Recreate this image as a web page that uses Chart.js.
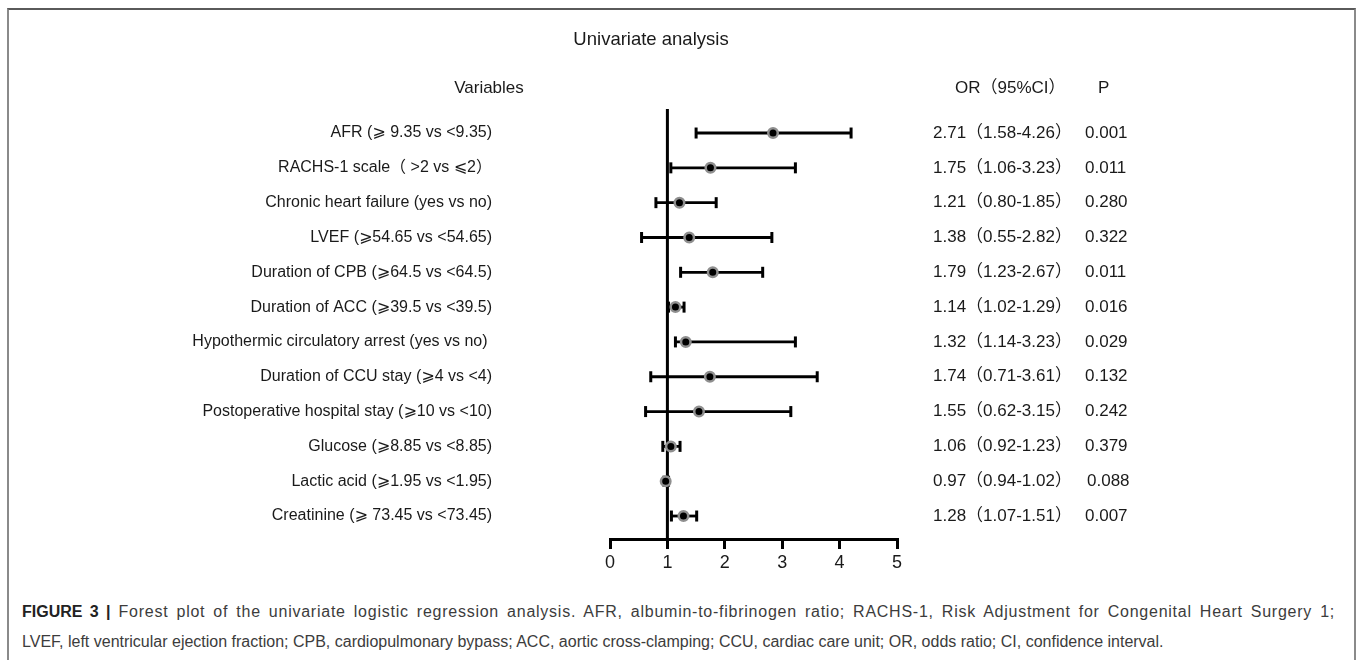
<!DOCTYPE html>
<html>
<head>
<meta charset="utf-8">
<script src="https://cdn.jsdelivr.net/npm/chart.js@4.4.0/dist/chart.umd.min.js"></script>
<style>
  body { margin: 0; background: #fff; width: 1357px; height: 660px; overflow: hidden; position: relative; }
  #frame { position: absolute; left: 7px; top: 8px; width: 1349px; height: 720px; box-sizing: border-box;
    border: 2px solid #8a8a8a; border-top-color: #5a5a5a; }
  #plot { position: absolute; left: 0; top: 0; width: 1357px; height: 590px; }
  .cap { position: absolute; left: 22px; font-family: "Liberation Sans", Arial, sans-serif;
    font-size: 16px; line-height: 30px; color: #3c3c3c; white-space: nowrap; }
  #cap1 { top: 597px; width: 1313px; text-align: justify; text-align-last: justify; white-space: normal; letter-spacing: 0.75px; }
  #cap2 { top: 627px; }
  .cap b { color: #222; letter-spacing: 0; }
</style>
</head>
<body>
<div id="frame"></div>
<div id="plot"><canvas id="forestChart"></canvas></div>
<div class="cap" id="cap1"><b>FIGURE 3 |</b> Forest plot of the univariate logistic regression analysis. AFR, albumin-to-fibrinogen ratio; RACHS-1, Risk Adjustment for Congenital Heart Surgery 1;</div>
<div class="cap" id="cap2">LVEF, left ventricular ejection fraction; CPB, cardiopulmonary bypass; ACC, aortic cross-clamping; CCU, cardiac care unit; OR, odds ratio; CI, confidence interval.</div>
<script>
const variables = [
  "AFR (\u2A7E 9.35 vs <9.35)",
  "RACHS-1 scale\uFF08 >2 vs \u2A7D2\uFF09",
  "Chronic heart failure (yes vs no)",
  "LVEF (\u2A7E54.65 vs <54.65)",
  "Duration of CPB (\u2A7E64.5 vs <64.5)",
  "Duration of ACC (\u2A7E39.5 vs <39.5)",
  "Hypothermic circulatory arrest (yes vs no) ",
  "Duration of CCU stay (\u2A7E4 vs <4)",
  "Postoperative hospital stay (\u2A7E10 vs <10)",
  "Glucose (\u2A7E8.85 vs <8.85)",
  "Lactic acid (\u2A7E1.95 vs <1.95)",
  "Creatinine (\u2A7E 73.45 vs <73.45)"
];
// plotted positions (AFR marker sits a bit off its printed value in the figure)
const oddsRatios = [2.84, 1.75, 1.21, 1.38, 1.79, 1.14, 1.32, 1.74, 1.55, 1.06, 0.97, 1.28];
const ciLower = [1.50, 1.06, 0.80, 0.55, 1.23, 1.02, 1.14, 0.71, 0.62, 0.92, 0.94, 1.07];
const ciUpper = [4.20, 3.23, 1.85, 2.82, 2.66, 1.29, 3.23, 3.61, 3.15, 1.22, 1.02, 1.51];
const orLabels = [
  "2.71\uFF081.58-4.26\uFF09", "1.75\uFF081.06-3.23\uFF09", "1.21\uFF080.80-1.85\uFF09",
  "1.38\uFF080.55-2.82\uFF09", "1.79\uFF081.23-2.67\uFF09", "1.14\uFF081.02-1.29\uFF09",
  "1.32\uFF081.14-3.23\uFF09", "1.74\uFF080.71-3.61\uFF09", "1.55\uFF080.62-3.15\uFF09",
  "1.06\uFF080.92-1.23\uFF09", "0.97\uFF080.94-1.02\uFF09", "1.28\uFF081.07-1.51\uFF09"
];
const pValues = ["0.001", "0.011", "0.280", "0.322", "0.011", "0.016", "0.029", "0.132", "0.242", "0.379", "0.088", "0.007"];
const refValue = 1;

const FONT = '"Liberation Sans", Arial, "DejaVu Sans", "Noto Sans CJK SC", sans-serif';
const TEXT = "#1a1a1a";
const Y_MIN = 0.31;
const Y_MAX = 12.66;

const tablePlugin = {
  id: "tableText",
  afterDraw(chart) {
    const ctx = chart.ctx;
    const y = chart.scales.y;
    const right = chart.chartArea.right;
    ctx.save();
    ctx.fillStyle = TEXT;
    ctx.textBaseline = "middle";
    ctx.font = "18.5px " + FONT;
    ctx.textAlign = "center";
    ctx.fillText("Univariate analysis", 651, 40);
    ctx.font = "17px " + FONT;
    ctx.fillText("Variables", 489, 88);
    ctx.textAlign = "left";
    ctx.fillText("OR\uFF0895%CI\uFF09", right + 58, 88);
    ctx.fillText("P", right + 201, 88);
    orLabels.forEach((t, i) => {
      const py = y.getPixelForValue(i + 1);
      ctx.fillText(t, right + 36, py);
      ctx.fillText(pValues[i], right + 188 + (i === 10 ? 2 : 0), py);
    });
    ctx.restore();
  }
};

const ciSets = variables.map((v, i) => ({
  label: v,
  data: [{ x: ciLower[i], y: i + 1 }, { x: ciUpper[i], y: i + 1 }],
  showLine: true,
  borderColor: "#000",
  borderWidth: 2.8,
  pointStyle: "line",
  rotation: 90,
  pointRadius: 5.5,
  pointBorderWidth: 3,
  pointBorderColor: "#000",
  order: 1
}));

new Chart(document.getElementById("forestChart"), {
  type: "scatter",
  data: {
    datasets: [
      {
        label: "OR",
        data: oddsRatios.map((v, i) => ({ x: v, y: i + 1 })),
        pointRadius: 4.75,
        pointBorderWidth: 2.5,
        pointBackgroundColor: "#000",
        pointBorderColor: "#8f8f8f",
        order: 0
      },
      ...ciSets,
      {
        label: "ref",
        data: [{ x: refValue, y: Y_MIN }, { x: refValue, y: Y_MAX }],
        showLine: true,
        borderColor: "#000",
        borderWidth: 3,
        pointRadius: 0,
        order: 2
      }
    ]
  },
  options: {
    responsive: true,
    maintainAspectRatio: false,
    animation: false,
    layout: { padding: { left: 10, right: 460, top: 109, bottom: 11 } },
    plugins: {
      legend: { display: false },
      tooltip: { enabled: false }
    },
    scales: {
      x: {
        type: "linear",
        min: 0,
        max: 5,
        ticks: { stepSize: 1, padding: 3, color: TEXT, font: { family: FONT, size: 18 } },
        grid: { drawOnChartArea: false, color: "#000", lineWidth: 3, tickLength: 10 },
        border: { color: "#000", width: 3 },
        afterFit: (s) => { s.height = 40; s.paddingLeft = 0; s.paddingRight = 0; }
      },
      y: {
        type: "linear",
        reverse: true,
        min: Y_MIN,
        max: Y_MAX,
        afterBuildTicks: (s) => { s.ticks = variables.map((_, i) => ({ value: i + 1 })); },
        ticks: {
          autoSkip: false,
          padding: 110,
          color: TEXT,
          font: { family: FONT, size: 16 },
          callback: (v, i) => variables[i]
        },
        grid: { display: false },
        border: { display: false },
        afterFit: (s) => { s.width = 600; s.paddingTop = 0; s.paddingBottom = 0; }
      }
    }
  },
  plugins: [tablePlugin]
});
</script>
</body>
</html>
